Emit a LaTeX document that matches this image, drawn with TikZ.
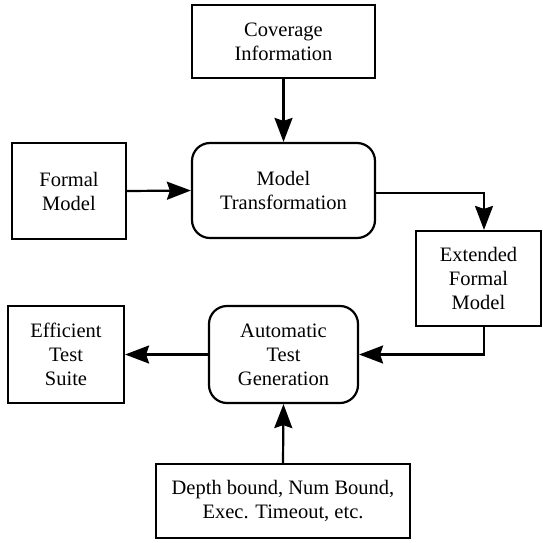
\documentclass[tikz,border=0pt]{standalone}
\usepackage{fontspec}
\setmainfont{Liberation Serif}
\usetikzlibrary{arrows.meta}
\begin{document}
\begin{tikzpicture}[x=1pt,y=-1pt,
  box/.style={draw=black,line width=2.2pt,align=center,inner sep=0pt,font=\fontsize{20.5}{24}\selectfont},
  rbox/.style={box,rounded corners=18pt},
  arr/.style={line width=2.2pt,-{Stealth[length=24pt,width=18pt,inset=3pt]}}]
\useasboundingbox (0,0) rectangle (543,542);
\node[box,minimum width=183pt,minimum height=73pt] (cov) at (283.5,41.5) {Coverage\\Information};
\node[box,minimum width=114pt,minimum height=96pt] (fm) at (69,191) {Formal\\Model};
\node[rbox,minimum width=183pt,minimum height=95pt] (mt) at (283.5,190.5) {Model\\Transformation};
\node[box,minimum width=125pt,minimum height=95pt] (ext) at (478.5,278.5) {Extended\\Formal\\Model};
\node[box,minimum width=116pt,minimum height=97pt] (eff) at (66,354.5) {Efficient\\Test\\Suite};
\node[rbox,minimum width=149pt,minimum height=97pt] (atg) at (283.5,354.5) {Automatic\\Test\\Generation};
\node[box,minimum width=254pt,minimum height=74pt] (dep) at (283,501) {Depth bound, Num Bound,\\Exec. Timeout, etc.};
\draw[arr] (cov.south) -- (mt.north);
\draw[arr] (fm.east) -- (mt.west);
\draw[arr] ([yshift=-2.5pt]mt.east) -| ([xshift=5.5pt]ext.north);
\draw[arr] ([xshift=5.5pt]ext.south) |- (atg.east);
\draw[arr] (atg.west) -- (eff.east);
\draw[arr] (dep.north) -- (atg.south);
\end{tikzpicture}
\end{document}
